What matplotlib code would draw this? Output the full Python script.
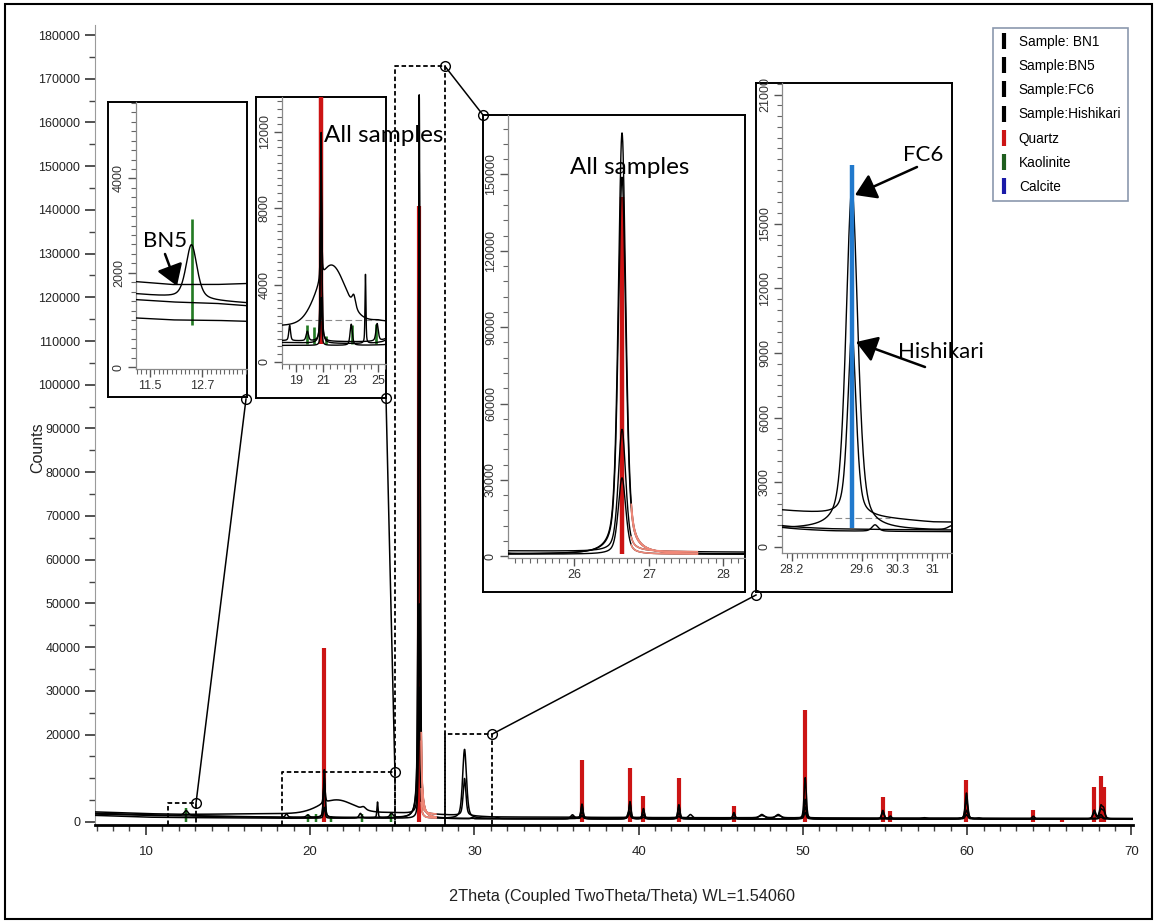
import numpy as np
import matplotlib
matplotlib.use("Agg")
import matplotlib.pyplot as plt
from matplotlib.patches import Rectangle, FancyArrowPatch
from matplotlib.lines import Line2D
from matplotlib.ticker import MultipleLocator, FixedLocator, FuncFormatter

plt.rcParams['font.family'] = ['Liberation Sans', 'DejaVu Sans']
NOTE_FONT = ['Lato', 'DejaVu Sans']

# ---------------------------------------------------------------- data
SAMPLE_LABELS = ["Sample: BN1", "Sample:BN5", "Sample:FC6", "Sample:Hishikari"]

# background level of each pattern (counts) at a few angles
BG_2THETA = [6.9, 10.0, 12.0, 13.0, 18.0, 25.0, 29.0, 31.0, 40.0, 70.1]
BG_BN1 = [1800, 1500, 1380, 1350, 1000, 900, 700, 700, 650, 600]
BG_BN5 = [2000, 1650, 1480, 1400, 1100, 1000, 800, 780, 700, 650]
BG_FC6 = [1500, 1100, 1000, 990, 850, 850, 800, 760, 700, 650]
BG_HISHIKARI = [2300, 1900, 1750, 1750, 1900, 2150, 1500, 1150, 1000, 800]

# reflections of each sample: 2theta, net counts, FWHM (deg)
BN1_2THETA = [20.86, 24.10, 26.64, 29.86, 36.00, 36.55, 39.47, 40.29, 42.45,
              45.80, 50.14, 54.87, 55.33, 59.96, 64.03, 67.74, 68.14, 68.31]
BN1_COUNTS = [11000, 3600, 165500, 300, 500, 3400, 4000, 2400, 3300,
              1500, 9500, 2000, 700, 6000, 700, 2000, 2800, 2200]
BN1_FWHM = [0.12, 0.08, 0.12, 0.15, 0.30, 0.15, 0.15, 0.15, 0.15,
            0.16, 0.16, 0.18, 0.18, 0.18, 0.20, 0.20, 0.20, 0.20]

BN5_2THETA = [12.45, 18.56, 19.85, 20.86, 24.95, 26.64, 36.55, 39.47, 40.29,
              42.45, 45.80, 50.14, 54.87, 59.96, 67.74, 68.14, 68.31]
BN5_COUNTS = [1150, 800, 500, 9000, 900, 148000, 3000, 3500, 2000,
              2900, 1200, 4500, 1500, 4500, 1500, 2000, 1600]
BN5_FWHM = [0.30, 0.15, 0.20, 0.12, 0.20, 0.12, 0.15, 0.15, 0.15,
            0.15, 0.16, 0.16, 0.18, 0.18, 0.20, 0.20, 0.20]

FC6_2THETA = [20.86, 23.06, 26.64, 29.40, 31.40, 35.97, 36.55, 39.40, 40.29,
              42.45, 43.15, 47.50, 48.50, 50.14, 57.40, 59.96, 60.70, 68.14]
FC6_COUNTS = [2500, 1100, 30000, 15800, 200, 900, 700, 1500, 400,
              600, 1000, 1000, 1000, 1500, 300, 1000, 250, 500]
FC6_FWHM = [0.12, 0.20, 0.12, 0.28, 0.20, 0.25, 0.15, 0.20, 0.15,
            0.15, 0.30, 0.40, 0.40, 0.16, 0.35, 0.18, 0.30, 0.20]

HISHIKARI_2THETA = [20.86, 23.25, 26.64, 29.40, 36.55, 39.45, 40.29, 42.45,
                    47.50, 48.50, 50.14, 59.96, 68.14]
HISHIKARI_COUNTS = [4500, 600, 48000, 8500, 1200, 1300, 700, 1100,
                    500, 500, 2500, 1800, 900]
HISHIKARI_FWHM = [0.12, 0.30, 0.12, 0.20, 0.15, 0.15, 0.15, 0.15,
                  0.40, 0.40, 0.16, 0.18, 0.20]
# broad amorphous hump of Hishikari
HUMP_2THETA, HUMP_COUNTS, HUMP_FWHM = 21.6, 3000, 2.4

# reference stick patterns
QUARTZ_2THETA = [20.86, 26.64, 36.55, 39.47, 40.29, 42.45, 45.80, 50.14,
                 54.87, 55.33, 59.96, 64.03, 65.80, 67.74, 68.14, 68.31]
QUARTZ_COUNTS = [39800, 141000, 14200, 12300, 6000, 10000, 3700, 25500,
                 5600, 2600, 9600, 2700, 600, 8000, 10500, 8000]
KAOLINITE_2THETA = [12.45, 19.85, 20.35, 21.25, 23.15, 24.90]
KAOLINITE_COUNTS = [3150, 1900, 1800, 1350, 1900, 1950]
CALCITE_2THETA = [29.40]
CALCITE_COUNTS = [17750]
STICK_BASE = 900

# ---------------------------------------------------------------- profiles
TT = np.arange(6.9, 70.1, 0.005)


def pseudo_voigt(x, c, a, w, eta=0.5):
    d = (x - c) / (w / 2.0)
    return a * (eta / (1.0 + d ** 2) + (1 - eta) * np.exp(-np.log(2) * d ** 2))


def pattern(bg, pos, cnt, fw):
    y = np.interp(TT, BG_2THETA, bg)
    for c, a, w in zip(pos, cnt, fw):
        y = y + pseudo_voigt(TT, c, a, w)
    return y


hishikari = pattern(BG_HISHIKARI, HISHIKARI_2THETA, HISHIKARI_COUNTS, HISHIKARI_FWHM)
hishikari = hishikari + pseudo_voigt(TT, HUMP_2THETA, HUMP_COUNTS, HUMP_FWHM, eta=0.0)
CURVES = [
    pattern(BG_BN1, BN1_2THETA, BN1_COUNTS, BN1_FWHM),
    pattern(BG_BN5, BN5_2THETA, BN5_COUNTS, BN5_FWHM),
    pattern(BG_FC6, FC6_2THETA, FC6_COUNTS, FC6_FWHM),
    hishikari,
]

RED = '#cc1414'
GREEN = '#237a23'
BLUE_STICK = '#2179cc'
SALMON = '#f08878'
SALMON_RANGE = (26.76, 27.65)

# ---------------------------------------------------------------- figure
W, H = 1157, 923
fig = plt.figure(figsize=(W / 100, H / 100), dpi=100)


def fbox(x0, y0, x1, y1):
    return [x0 / W, 1 - y1 / H, (x1 - x0) / W, (y1 - y0) / H]


def px(x, y):
    return (x / W, 1 - y / H)


def draw_patterns(ax, lw, stick_lw, calcite=False, from_zero=False):
    base = 0 if from_zero else STICK_BASE
    ax.vlines(QUARTZ_2THETA, base, QUARTZ_COUNTS, color=RED, lw=stick_lw, zorder=2)
    ax.vlines(KAOLINITE_2THETA, base, KAOLINITE_COUNTS, color=GREEN,
              lw=stick_lw * 0.6, zorder=2)
    for y in CURVES:
        ax.plot(TT, y, color='black', lw=lw, zorder=3)
    m = (TT >= SALMON_RANGE[0]) & (TT <= SALMON_RANGE[1])
    for y in CURVES:
        ax.plot(TT[m], y[m], color=SALMON, lw=lw * 1.2, zorder=3.5)
    if calcite:
        ax.vlines(CALCITE_2THETA, STICK_BASE, CALCITE_COUNTS, color=BLUE_STICK,
                  lw=stick_lw, zorder=4)


int_fmt = FuncFormatter(lambda v, p: f"{v:g}")

# ---- main axes
ax = fig.add_axes(fbox(95, 25, 1133, 825))
draw_patterns(ax, lw=1.1, stick_lw=3.0, from_zero=True)
ax.set_xlim(6.9, 70.1)
ax.set_ylim(-700, 182300)
for s in ('top', 'right'):
    ax.spines[s].set_visible(False)
ax.spines['left'].set_color('#9a9a9a')
ax.spines['bottom'].set_linewidth(2.0)
ax.xaxis.set_major_locator(FixedLocator(range(10, 71, 10)))
ax.xaxis.set_minor_locator(MultipleLocator(1))
ax.yaxis.set_major_locator(FixedLocator([0] + list(range(20000, 180001, 10000))))
ax.yaxis.set_minor_locator(MultipleLocator(5000))
ax.yaxis.set_major_formatter(FuncFormatter(lambda v, p: f"{int(v)}"))
ax.tick_params(axis='both', which='major', length=7, width=1.2, color='#333',
               labelsize=9, labelcolor='#222')
ax.tick_params(axis='both', which='minor', length=4, width=1.0, color='#444')
ax.tick_params(axis='x', pad=8, labelsize=9.5)

fig.text(*px(38, 448), "Counts", rotation=90, ha='center', va='center',
         fontsize=11.5, color='#222')
fig.text(*px(622, 897), "2Theta (Coupled TwoTheta/Theta) WL=1.54060",
         ha='center', va='center', fontsize=11.7, color='#222')

# zoom boxes on the main pattern
ZOOM_BOXES = [(11.36, 13.05, 4300), (18.27, 25.16, 11500),
              (25.16, 28.20, 172900), (28.20, 31.07, 20060)]
for x0, x1, top in ZOOM_BOXES:
    ax.plot([x0, x0, x1, x1], [-700, top, top, -700], color='black', lw=1.3,
            dashes=(2.5, 1.5), zorder=5, clip_on=False)

# legend
handles = [Line2D([], [], color=c, marker='|', linestyle='None', markersize=11,
                  markeredgewidth=3)
           for c in ['black'] * 4 + ['#cc1414', '#1e5e1e', '#1a1aa8']]
labels = SAMPLE_LABELS + ["Quartz", "Kaolinite", "Calcite"]
leg = ax.legend(handles, labels, loc='upper left', bbox_to_anchor=px(993, 28),
                bbox_transform=fig.transFigure, frameon=True, fancybox=False,
                fontsize=9.8, handlelength=0.6, handletextpad=0.8,
                labelspacing=0.75, borderpad=0.5, borderaxespad=0)
leg.get_frame().set_edgecolor('#6e7f99')
leg.get_frame().set_linewidth(1.2)


# ---- insets
def make_inset(frame_px, ax_px, xlim, ylim, xmaj, xmin, ymaj, ymin, calcite=False):
    fr = fig.add_axes(fbox(*frame_px))
    fr.set_xticks([])
    fr.set_yticks([])
    for s in fr.spines.values():
        s.set_linewidth(1.4)
        s.set_color('black')
    ia = fig.add_axes(fbox(*ax_px))
    ia.set_facecolor('none')
    draw_patterns(ia, lw=1.0, stick_lw=3.2, calcite=calcite)
    ia.set_xlim(*xlim)
    ia.set_ylim(*ylim)
    for s in ('top', 'right'):
        ia.spines[s].set_visible(False)
    for s in ('left', 'bottom'):
        ia.spines[s].set_color('#8a8a8a')
        ia.spines[s].set_linewidth(0.9)
    ia.xaxis.set_major_locator(FixedLocator(xmaj))
    ia.xaxis.set_minor_locator(MultipleLocator(xmin))
    ia.yaxis.set_major_locator(FixedLocator(ymaj))
    ia.yaxis.set_minor_locator(MultipleLocator(ymin))
    ia.xaxis.set_major_formatter(int_fmt)
    ia.yaxis.set_major_formatter(FuncFormatter(lambda v, p: f"{int(v)}"))
    ia.tick_params(which='major', length=6, width=1.0, color='#555',
                   labelsize=9, labelcolor='#333', pad=2)
    ia.tick_params(which='minor', length=3.5, width=0.8, color='#666')
    ia.tick_params(axis='y', labelrotation=90)
    for lab in ia.get_yticklabels():
        lab.set_va('center')
    return ia


in1 = make_inset((108, 102, 247, 397), (136, 102, 247, 369), (11.18, 13.72), (-40, 5620),
                 [11.5, 12.7], 0.1, [0, 2000, 4000], 200)
in2 = make_inset((256, 97, 386, 398), (282, 97, 386, 364), (18.0, 25.6), (-120, 13820),
                 [19, 21, 23, 25], 0.5, [0, 4000, 8000, 12000], 400)
in3 = make_inset((483, 115, 745, 592), (508, 115, 745, 558), (25.11, 28.29), (-660, 173350),
                 [26, 27, 28], 0.1, list(range(0, 150001, 30000)), 6000)
in4 = make_inset((756, 83, 952, 592), (782, 83, 952, 553), (28.01, 31.39), (-280, 21540),
                 [28.2, 29.6, 30.3, 31], 0.1, [0, 3000, 6000, 9000, 12000, 15000, 21000], 500,
                 calcite=True)

# background marks in two insets
in2.plot([19.7, 25.5], [2170, 2170], color='#8c8c8c', lw=0.8, dashes=(6, 3), zorder=2.5)
in4.plot([29.06, 30.16], [1350, 1350], color='#8c8c8c', lw=0.8, dashes=(6, 3), zorder=2.5)


# ---- connectors between zoom boxes and insets
def data2fig(a, x, y):
    return fig.transFigure.inverted().transform(a.transData.transform((x, y)))


CONNECT = [((13.05, 4300), (246, 399)), ((25.16, 11500), (386, 398)),
           ((28.20, 172900), (483, 115)), ((31.07, 20060), (756, 595))]
for (dx, dy), (ux, uy) in CONNECT:
    a = data2fig(ax, dx, dy)
    b = px(ux, uy)
    fig.add_artist(Line2D([a[0], b[0]], [a[1], b[1]], transform=fig.transFigure,
                          color='black', lw=1.1))
    for p in (a, b):
        fig.add_artist(Line2D([p[0]], [p[1]], transform=fig.transFigure, marker='o',
                              ms=7, mfc='none', mec='black', mew=1.0))

# ---- notes and arrows
fig.text(*px(143, 241), "BN5", fontsize=16, family=NOTE_FONT, va='center', ha='left')
fig.text(*px(324, 136), "All samples", fontsize=17.5, family=NOTE_FONT, va='center', ha='left')
fig.text(*px(570, 168), "All samples", fontsize=17.5, family=NOTE_FONT, va='center', ha='left')
fig.text(*px(903, 155), "FC6", fontsize=16, family=NOTE_FONT, va='center', ha='left')
fig.text(*px(898, 352), "Hishikari", fontsize=16, family=NOTE_FONT, va='center', ha='left')

ARROWS = [((165, 254), (177, 286)), ((917, 167), (855, 195)), ((925, 367), (856, 342))]
for tail, tip in ARROWS:
    fig.add_artist(FancyArrowPatch(px(*tail), px(*tip), transform=fig.transFigure,
                                   arrowstyle='-|>,head_length=0.7,head_width=0.45',
                                   mutation_scale=18, lw=1.8, color='black',
                                   shrinkA=0, shrinkB=0))

# outer border
fig.add_artist(Rectangle(px(5, 919), 1147 / W, 915 / H, transform=fig.transFigure,
                         fill=False, ec='black', lw=1.5))

fig.savefig('out.png', dpi=100)
